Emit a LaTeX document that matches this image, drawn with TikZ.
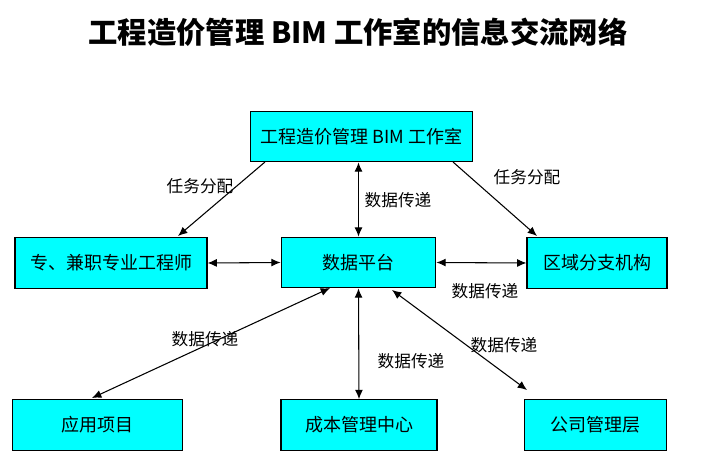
\documentclass[tikz,border=0pt]{standalone}
\usepackage{fontspec}
\setmainfont{Noto Sans CJK SC}
\usetikzlibrary{arrows.meta}
\definecolor{boxcyan}{RGB}{0,255,255}
\tikzset{
  unitbox/.style={draw=black,fill=boxcyan,line width=0.8pt,minimum height=38pt,font=\fontsize{13.5}{15}\selectfont},
  flow/.style={line width=0.8pt,-{Latex[length=7pt,width=6pt]}},
  both/.style={line width=0.8pt,{Latex[length=7pt,width=6pt]}-{Latex[length=7pt,width=6pt]}},
  tag/.style={font=\fontsize{12.5}{14}\selectfont}
}
\begin{document}
\begin{tikzpicture}[x=0.75pt,y=-0.75pt]
\useasboundingbox (0,0) rectangle (716,470);
\node[font=\bfseries\fontsize{22}{26}\selectfont] (title) at (358,32) {工程造价管理 BIM 工作室的信息交流网络};
\node[unitbox,minimum width=166pt] (studio) at (361.5,136.5) {工程造价管理 BIM 工作室};
\node[unitbox,minimum width=144pt] (staff) at (111,263) {专、兼职专业工程师};
\node[unitbox,minimum width=116pt] (data) at (358.5,262.5) {数据平台};
\node[unitbox,minimum width=105pt] (region) at (597,263) {区域分支机构};
\node[unitbox,minimum width=128pt] (project) at (97.5,425) {应用项目};
\node[unitbox,minimum width=117pt] (cost) at (359,425) {成本管理中心};
\node[unitbox,minimum width=106pt] (firm) at (595.5,425) {公司管理层};
% connectors
\draw[flow] (265,162) -- (178,236);
\draw[flow] (453,162) -- (537,236);
\draw[both] (studio.south -| data.north) -- (data.north);
\draw[both] (staff.east) -- (data.west);
\draw[both] (data.east) -- (region.west);
\draw[both] (330,288) -- (92,398);
\draw[both] (data.south) -- (cost.north);
\draw[both] (392,290) -- (527,390);
% labels
\node[tag] (t1) at (200,186) {任务分配};
\node[tag] (t2) at (527,177) {任务分配};
\node[tag] (d1) at (398,200) {数据传递};
\node[tag] (d2) at (485,291) {数据传递};
\node[tag] (d3) at (205,339) {数据传递};
\node[tag] (d4) at (411,361) {数据传递};
\node[tag] (d5) at (504,345) {数据传递};
\end{tikzpicture}
\end{document}
